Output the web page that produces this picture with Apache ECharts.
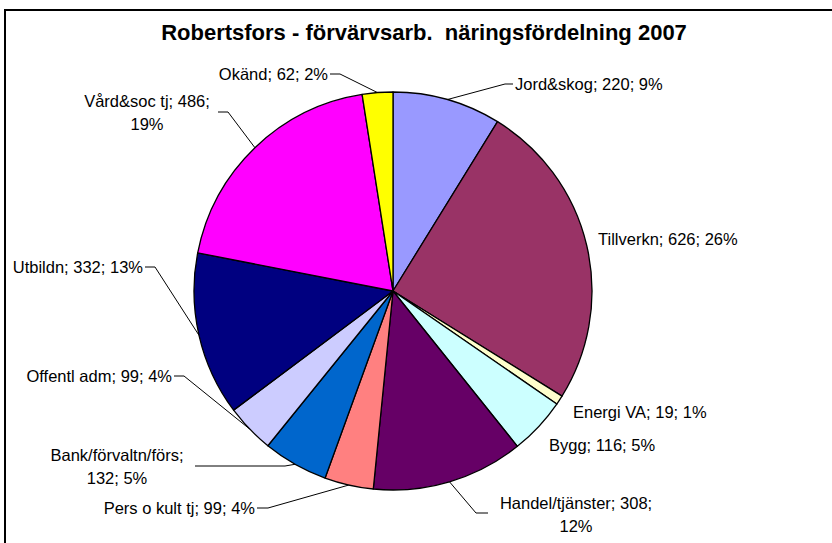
<!DOCTYPE html>
<html><head><meta charset="utf-8">
<script src="https://cdn.jsdelivr.net/npm/echarts@6/dist/echarts.min.js"></script>
<style>html,body{margin:0;padding:0;background:#fff}#c{width:832px;height:543px}</style>
</head><body><div id="c"></div>
<script>
// ---- data ----
const categories = ['Jord&skog','Tillverkn','Energi VA','Bygg','Handel/tjänster','Pers o kult tj','Bank/förvaltn/förs','Offentl adm','Utbildn','Vård&soc tj','Okänd'];
const values = [220,626,19,116,308,99,132,99,332,486,62];
const percents = [9,26,1,5,12,4,5,4,13,19,2];
const titleText = 'Robertsfors - förvärvsarb.  näringsfördelning 2007';

// ---- styles / layout ----
const colors = ['#9999FF','#993366','#FFFFCC','#CCFFFF','#660066','#FF8080','#0066CC','#CCCCFF','#000080','#FF00FF','#FFFF00'];
const FONT = '"Liberation Sans", Arial, sans-serif';
// label placement: anchor x/y, alignment, wrap (0 none, 1 after name, 2 after value), leader points (pie side -> label side)
const labelSpec = [
  {x:515, y:84,  align:'left',   wrap:0, leader:[[505,84],[513,84]]},
  {x:598, y:239, align:'left',   wrap:0, leader:null},
  {x:573, y:412, align:'left',   wrap:0, leader:null},
  {x:549, y:445, align:'left',   wrap:0, leader:null},
  {x:576, y:514, align:'center', wrap:2, leader:[[476,513],[488,513]]},
  {x:255, y:508, align:'right',  wrap:0, leader:[[268,508],[257,508]]},
  {x:117, y:466, align:'center', wrap:1, leader:[[285,466],[195,466]]},
  {x:172, y:376, align:'right',  wrap:0, leader:[[184,376],[174,376]]},
  {x:143, y:267, align:'right',  wrap:0, leader:[[155,267],[145,267]]},
  {x:147, y:112, align:'center', wrap:2, leader:[[228,112],[218,112]]},
  {x:328, y:74,  align:'right',  wrap:0, leader:[[340,74],[330,74]]}
];

const seriesData = categories.map((name, i) => ({
  name, value: values[i],
  itemStyle: {color: colors[i]},
  labelLine: {show: !!labelSpec[i].leader}
}));

const chart = echarts.init(document.getElementById('c'), null, {renderer: 'svg'});
chart.setOption({
  animation: false,
  backgroundColor: '#fff',
  graphic: [
    {type:'rect', shape:{x:5, y:10, width:1200, height:1200}, style:{fill:'none', stroke:'#000', lineWidth:2}, silent:true},
    {type:'text', x:424, y:32, style:{text:titleText, align:'center', verticalAlign:'middle', font:'bold 22px ' + FONT, fill:'#000'}, silent:true}
  ],
  series: [{
    type: 'pie',
    center: [393, 291],
    radius: 199,
    startAngle: 90,
    clockwise: true,
    avoidLabelOverlap: false,
    emphasis: {disabled: true},
    data: seriesData,
    itemStyle: {borderColor: '#000', borderWidth: 1.3},
    label: {
      show: true,
      position: 'outside',
      alignTo: 'none',
      color: '#000',
      fontFamily: FONT,
      fontSize: 16.5,
      lineHeight: 23,
      formatter: p => {
        const i = p.dataIndex, w = labelSpec[i].wrap;
        const a = p.name, b = p.value + '', c = percents[i] + '%';
        if (w === 1) return a + ';\n' + b + '; ' + c;
        if (w === 2) return a + '; ' + b + ';\n' + c;
        return a + '; ' + b + '; ' + c;
      }
    },
    labelLine: {show: true, length: 10, length2: 10, smooth: false, lineStyle: {color: '#000', width: 1}},
    labelLayout: params => {
      const s = labelSpec[params.dataIndex];
      const out = {x: s.x, y: s.y, align: s.align, verticalAlign: 'middle'};
      if (s.leader && params.labelLinePoints) {
        out.labelLinePoints = [params.labelLinePoints[0]].concat(s.leader);
      }
      return out;
    }
  }]
});
</script></body></html>
